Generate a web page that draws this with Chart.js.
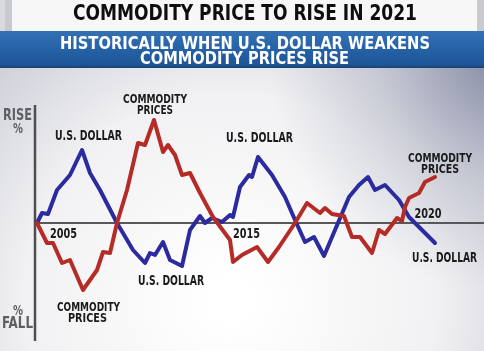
<!DOCTYPE html>
<html>
<head>
<meta charset="utf-8">
<script src="https://cdn.jsdelivr.net/npm/chart.js@4/dist/chart.umd.min.js"></script>
<style>
  html, body { margin: 0; padding: 0; background: #fff; overflow: hidden; }
  canvas { display: block; }
</style>
</head>
<body>
<canvas id="chart" width="484" height="351"></canvas>
<script>
// positions along the time axis (arbitrary units) and % change
const dollarX = [0, 1.25, 2.75, 5, 8.25, 11.25, 13.25, 15.75, 20, 24, 27, 28.25, 29.5, 31.5, 33.25, 36.25, 38.25, 40.75, 42, 43.75, 46.25, 48.25, 49, 50.75, 53, 53.75, 55.25, 58.75, 62, 64.5, 67, 69.25, 71.75, 74.5, 78, 80.5, 82.75, 84.5, 87, 90.5, 93, 96.25, 99.5];
const dollarY = [0, 2.5, 2.25, 8.25, 12, 18.25, 12.5, 8.25, 0, -6.75, -10, -7.5, -8, -4.75, -9.25, -10.75, -1.75, 1.75, 0, 1.25, 0.25, 2, 1.5, 9, 12, 11.5, 16.5, 12, 6.5, 0.75, -4.75, -3.5, -8.25, -1.75, 6.5, 9.5, 11.5, 8.25, 9.5, 5.75, 1.5, -1.75, -5];

const commodX = [0, 2.5, 4, 6.25, 8.25, 11.5, 15, 16.5, 18.25, 20, 22.5, 25.25, 27, 29.25, 31.5, 32.75, 34.5, 36.25, 38.25, 40.75, 44, 48.25, 49, 51.25, 55, 57.75, 60.5, 64.5, 67.5, 70.75, 72, 73.75, 76.75, 78.75, 80.75, 83.75, 85.5, 87, 90, 91.25, 92, 93, 95.5, 97, 99.5];
const commodY = [0, -5, -5, -10, -9.25, -16.75, -11.75, -7.25, -7.5, 0, 8.25, 20, 19.5, 25.75, 17.75, 19.5, 17, 12, 12.5, 7.5, 1.5, -4.25, -9.75, -8, -6, -9.75, -6, 0, 5, 2.5, 3.75, 2.25, 1.75, -3.5, -3.5, -7.5, -1.75, -2.75, 1.25, 0.5, 4, 6.25, 7.5, 10.25, 11.5];

const yearLabels = ['2005', '2015', '2020'];
const yearX = [6.6, 52.4, 97.75];

const FONT = '"DejaVu Sans Condensed", "Liberation Sans Narrow", "DejaVu Sans", sans-serif';

// draw bold text squeezed/stretched to a given width, centred on cx
function fitText(ctx, txt, cx, base, size, width, color) {
  ctx.save();
  ctx.font = 'bold ' + size + 'px ' + FONT;
  ctx.fillStyle = color;
  ctx.textAlign = 'left';
  ctx.textBaseline = 'alphabetic';
  const w = ctx.measureText(txt).width;
  ctx.translate(cx - width / 2, base);
  ctx.scale(width / w, 1);
  ctx.fillText(txt, 0, 0);
  ctx.restore();
}

const backdrop = {
  id: 'backdrop',
  beforeDraw(chart) {
    const ctx = chart.ctx;
    const W = chart.width, H = chart.height;
    ctx.save();
    // grey studio background
    let g = ctx.createRadialGradient(230, 300, 20, 230, 300, 360);
    g.addColorStop(0, '#ffffff');
    g.addColorStop(0.55, '#f1f1f3');
    g.addColorStop(1, '#c6c8d2');
    ctx.fillStyle = g;
    ctx.fillRect(0, 0, W, H);
    g = ctx.createRadialGradient(500, 60, 10, 500, 60, 230);
    g.addColorStop(0, 'rgba(120,126,155,0.75)');
    g.addColorStop(0.5, 'rgba(140,146,170,0.3)');
    g.addColorStop(1, 'rgba(140,146,170,0)');
    ctx.fillStyle = g;
    ctx.fillRect(0, 0, W, H);

    // title strip
    ctx.fillStyle = '#c9cacf';
    ctx.fillRect(0, 0, W, 32);
    ctx.fillStyle = '#d9dadd';
    ctx.fillRect(0, 0, 5, 32);
    ctx.fillStyle = '#f7f7f7';
    ctx.fillRect(12, 0, 465, 31);

    // blue band
    g = ctx.createLinearGradient(0, 31, 0, 68);
    g.addColorStop(0, '#3471b4');
    g.addColorStop(0.5, '#2561a6');
    g.addColorStop(0.92, '#1f5595');
    g.addColorStop(1, '#173f70');
    ctx.fillStyle = g;
    ctx.fillRect(0, 31, W, 37);
    ctx.restore();

    fitText(ctx, 'COMMODITY PRICE TO RISE IN 2021', 245, 19.5, 22, 344, '#0e0e0e');
    fitText(ctx, 'HISTORICALLY WHEN U.S. DOLLAR WEAKENS', 245, 49, 17.5, 370, '#ffffff');
    fitText(ctx, 'COMMODITY PRICES RISE', 244.5, 63.5, 17.5, 209, '#ffffff');
  },
  beforeDatasetsDraw(chart) {
    const ctx = chart.ctx;
    const x = chart.scales.x, y = chart.scales.y;
    const y0 = y.getPixelForValue(0);
    ctx.save();
    ctx.strokeStyle = '#4e4e50';
    ctx.lineWidth = 2.5;
    ctx.beginPath();
    ctx.moveTo(35, 105);
    ctx.lineTo(35, 341);
    ctx.stroke();
    ctx.strokeStyle = '#58585a';
    ctx.lineWidth = 2;
    ctx.beginPath();
    ctx.moveTo(35, y0);
    ctx.lineTo(chart.width, y0);
    ctx.stroke();
    ctx.restore();

    yearLabels.forEach((lab, i) => {
      const cx = x.getPixelForValue(yearX[i]);
      const base = i === 2 ? y0 - 5 : y0 + 15;
      fitText(ctx, lab, cx, base, 13.5, 27, '#1a1a1a');
    });
  },
  afterDatasetsDraw(chart) {
    const ctx = chart.ctx;
    const dark = '#1a1a1a', grey = '#5f5f62';
    fitText(ctx, 'RISE', 17.5, 120, 15, 29, grey);
    fitText(ctx, '%', 18, 133, 14, 10, grey);
    fitText(ctx, '%', 18, 315, 14, 10, grey);
    fitText(ctx, 'FALL', 17.5, 328, 15, 31, grey);

    fitText(ctx, 'U.S. DOLLAR', 88.5, 140, 13.5, 67, dark);
    fitText(ctx, 'U.S. DOLLAR', 171, 285, 13.5, 66, dark);
    fitText(ctx, 'U.S. DOLLAR', 259.5, 142, 13.5, 67, dark);
    fitText(ctx, 'U.S. DOLLAR', 444.5, 262, 13.5, 65, dark);

    fitText(ctx, 'COMMODITY', 155, 103, 13, 64, dark);
    fitText(ctx, 'PRICES', 155, 114, 13, 36, dark);
    fitText(ctx, 'COMMODITY', 88.5, 311, 13, 63, dark);
    fitText(ctx, 'PRICES', 87.5, 322, 13, 39, dark);
    fitText(ctx, 'COMMODITY', 440, 162, 13, 64, dark);
    fitText(ctx, 'PRICES', 440, 173, 13, 38, dark);
  }
};

new Chart(document.getElementById('chart'), {
  type: 'line',
  data: {
    datasets: [
      {
        label: 'Commodity prices',
        data: commodX.map((x, i) => ({ x: x, y: commodY[i] })),
        borderColor: '#b52c27',
        borderWidth: 4,
        pointRadius: 0,
        tension: 0,
        borderJoinStyle: 'round',
        borderCapStyle: 'round',
        fill: false
      },
      {
        label: 'U.S. dollar',
        data: dollarX.map((x, i) => ({ x: x, y: dollarY[i] })),
        borderColor: '#2b2a9e',
        borderWidth: 4,
        pointRadius: 0,
        tension: 0,
        borderJoinStyle: 'round',
        borderCapStyle: 'round',
        fill: false
      }
    ]
  },
  options: {
    responsive: false,
    animation: false,
    layout: { padding: 0 },
    plugins: { legend: { display: false }, tooltip: { enabled: false } },
    scales: {
      x: { type: 'linear', display: false, min: -9.25, max: 111.75 },
      y: { display: false, min: -32, max: 55.75 }
    }
  },
  plugins: [backdrop]
});
</script>
</body>
</html>
